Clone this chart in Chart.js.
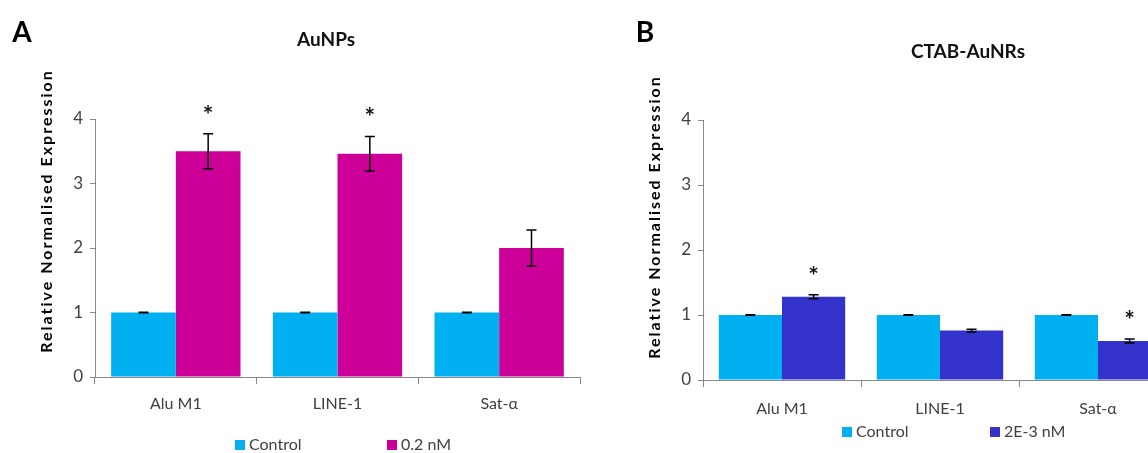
<!DOCTYPE html>
<html>
<head>
<meta charset="utf-8">
<script src="https://cdn.jsdelivr.net/npm/chart.js@4"></script>
<style>
  html, body { margin: 0; padding: 0; background: #fff; overflow: hidden; }
  body { width: 1148px; height: 453px; position: relative; }
  .panel { position: absolute; top: 0; width: 600px; height: 453px; }
  #panelA { left: 0; }
  #panelB { left: 600px; }
</style>
</head>
<body>
<div class="panel" id="panelA"><canvas id="chartA" width="600" height="453"></canvas></div>
<div class="panel" id="panelB"><canvas id="chartB" width="600" height="453"></canvas></div>
<script>
// datos
const categories = ['Alu M1', 'LINE-1', 'Sat-\u03B1'];
const yTicks = [0, 1, 2, 3, 4];

// panel A: AuNPs
const auControl = [1, 1, 1];
const auControlErr = [0.005, 0.005, 0.005];
const auTreated = [3.50, 3.46, 2.00];
const auTreatedErr = [0.27, 0.27, 0.28];
const auSignificant = [true, true, false];

// panel B: CTAB-AuNRs
const nrControl = [1, 1, 1];
const nrControlErr = [0.005, 0.005, 0.005];
const nrTreated = [1.28, 0.76, 0.60];
const nrTreatedErr = [0.03, 0.02, 0.03];
const nrSignificant = [true, false, true];

const FONT = 'Lato, "Open Sans", sans-serif';
const CYAN = '#00B0F0';
const MAGENTA = '#CC0099';
const INDIGO = '#3333CC';
const AXIS = '#878787';

// plugin para letras, titulo, barras de error, asteriscos y leyenda
const extrasPlugin = {
  id: 'extras',
  afterDatasetsDraw(chart, args, opts) {
    const ctx = chart.ctx;
    const y = chart.scales.y;
    ctx.save();

    // barras de error
    chart.data.datasets.forEach((ds, di) => {
      const meta = chart.getDatasetMeta(di);
      meta.data.forEach((bar, i) => {
        const v = ds.data[i];
        const e = ds.errors[i];
        const top = y.getPixelForValue(v + e);
        const bot = y.getPixelForValue(v - e);
        ctx.strokeStyle = '#000';
        ctx.lineWidth = 1.5;
        ctx.beginPath();
        ctx.moveTo(bar.x, top); ctx.lineTo(bar.x, bot);
        ctx.moveTo(bar.x - 5, top); ctx.lineTo(bar.x + 5, top);
        ctx.moveTo(bar.x - 5, bot); ctx.lineTo(bar.x + 5, bot);
        ctx.stroke();
        if (ds.significant && ds.significant[i]) {
          ctx.fillStyle = '#111';
          ctx.font = 'bold 25px ' + FONT;
          ctx.textAlign = 'center';
          ctx.textBaseline = 'middle';
          ctx.fillText('*', bar.x, top - opts.starGap);
        }
      });
    });

    // letra del panel
    ctx.fillStyle = '#000';
    ctx.font = 'bold 28px ' + FONT;
    ctx.textAlign = 'center';
    ctx.textBaseline = 'middle';
    ctx.fillText(opts.letter, opts.letterX, 33);

    // titulo
    ctx.font = 'bold 19px ' + FONT;
    ctx.fillStyle = '#111';
    ctx.fillText(opts.title, opts.titleX, opts.titleY);

    // titulo del eje y
    ctx.save();
    ctx.translate(opts.yTitleX, opts.yTitleY);
    ctx.rotate(-Math.PI / 2);
    ctx.font = 'bold 16px ' + FONT;
    ctx.letterSpacing = '2px';
    ctx.fillStyle = '#000';
    ctx.fillText('Relative Normalised Expression', 0, 0);
    ctx.restore();

    // leyenda
    ctx.font = '16px ' + FONT;
    ctx.textAlign = 'left';
    ctx.textBaseline = 'middle';
    chart.data.datasets.forEach((ds, di) => {
      const lx = opts.legendX[di];
      ctx.fillStyle = ds.backgroundColor;
      ctx.fillRect(lx, opts.legendY - 5, 10, 10);
      ctx.fillStyle = '#404040';
      ctx.fillText(ds.label, lx + 14, opts.legendY);
    });

    ctx.restore();
  }
};

function makeChart(id, control, controlErr, treated, treatedErr, sig, treatedLabel, treatedColor, cfg) {
  return new Chart(document.getElementById(id), {
    type: 'bar',
    data: {
      labels: categories,
      datasets: [
        { label: 'Control', data: control, errors: controlErr, backgroundColor: CYAN,
          categoryPercentage: 0.8, barPercentage: 1.0 },
        { label: treatedLabel, data: treated, errors: treatedErr, significant: sig,
          backgroundColor: treatedColor, categoryPercentage: 0.8, barPercentage: 1.0 }
      ]
    },
    options: {
      responsive: false,
      devicePixelRatio: 1,
      animation: false,
      layout: { padding: cfg.padding },
      plugins: {
        legend: { display: false },
        tooltip: { enabled: false },
        extras: cfg.extras
      },
      scales: {
        x: {
          grid: { offset: true, drawOnChartArea: false, drawTicks: true, tickLength: 7, color: AXIS },
          border: { color: AXIS },
          ticks: { color: '#404040', font: { family: FONT, size: 16 }, padding: cfg.xPad },
          afterFit: (s) => { s.height = 45; }
        },
        y: {
          min: 0, max: 4,
          afterBuildTicks: (s) => { s.ticks = yTicks.map(v => ({ value: v })); },
          grid: { drawOnChartArea: false, drawTicks: true, tickLength: 5, color: AXIS },
          border: { color: AXIS },
          ticks: { color: '#404040', font: { family: FONT, size: 17 }, padding: 7 },
          afterFit: (s) => { s.width = cfg.yWidth; }
        }
      }
    },
    plugins: [extrasPlugin]
  });
}

makeChart('chartA', auControl, auControlErr, auTreated, auTreatedErr, auSignificant, '0.2 nM', MAGENTA, {
  padding: { top: 119, right: 20, bottom: 31, left: 0 },
  yWidth: 95,
  xPad: 10,
  extras: { letter: 'A', letterX: 22, title: 'AuNPs', titleX: 326, titleY: 40, yTitleX: 47, yTitleY: 211,
            starGap: 18, legendX: [235, 387], legendY: 445 }
});

makeChart('chartB', nrControl, nrControlErr, nrTreated, nrTreatedErr, nrSignificant, '2E-3 nM', INDIGO, {
  padding: { top: 120, right: 23, bottom: 28, left: 0 },
  yWidth: 103,
  xPad: 12,
  extras: { letter: 'B', letterX: 45, title: 'CTAB-AuNRs', titleX: 368, titleY: 52, yTitleX: 55, yTitleY: 217,
            starGap: 18, legendX: [242, 390], legendY: 432 }
});
</script>
</body>
</html>
